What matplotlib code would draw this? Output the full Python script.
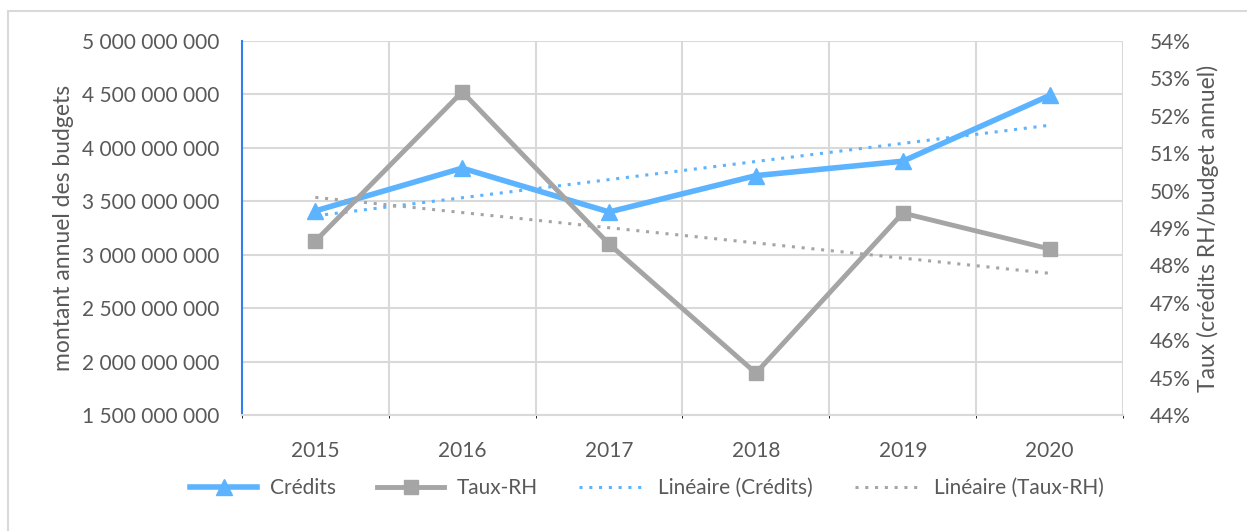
import matplotlib.pyplot as plt
import matplotlib.ticker as mticker
import numpy as np
from matplotlib.patches import Rectangle

plt.rcParams['font.family'] = ['Lato', 'DejaVu Sans']

years = ['2015', '2016', '2017', '2018', '2019', '2020']
credits = [3.41e9, 3.81e9, 3.40e9, 3.74e9, 3.875e9, 4.49e9]
taux_rh = [48.65, 52.64, 48.57, 45.12, 49.40, 48.44]

blue = '#5CB3FF'
grey = '#A5A5A5'
text_col = '#595959'
grid_col = '#D9D9D9'

fig = plt.figure(figsize=(12.47, 5.31), dpi=100)
ax = fig.add_axes([0.194, 0.2185, 0.7066, 0.7043])
ax2 = ax.twinx()

x = np.arange(len(years))

# linear trend lines (like Excel "Linéaire")
c_fit = np.polyval(np.polyfit(x, credits, 1), x)
t_fit = np.polyval(np.polyfit(x, taux_rh, 1), x)

l1, = ax.plot(x, credits, color=blue, lw=4, marker='^', markersize=11, zorder=5, label='Crédits')
l3, = ax.plot(x, c_fit, color=blue, lw=2.2, ls=(0, (1, 2.2)), zorder=4, label='Linéaire (Crédits)')
l2, = ax2.plot(x, taux_rh, color=grey, lw=3.5, marker='s', markersize=10, zorder=5, label='Taux-RH')
l4, = ax2.plot(x, t_fit, color=grey, lw=2.2, ls=(0, (1, 2.2)), zorder=4, label='Linéaire (Taux-RH)')

ax.set_xlim(-0.5, 5.5)
ax.set_ylim(1.5e9, 5e9)
ax.set_yticks(np.arange(1.5e9, 5.01e9, 0.5e9))
ax.yaxis.set_major_formatter(mticker.FuncFormatter(lambda v, p: f'{int(v):,}'.replace(',', ' ')))
ax2.set_ylim(44, 54)
ax2.set_yticks(np.arange(44, 55, 1))
ax2.yaxis.set_major_formatter(mticker.FuncFormatter(lambda v, p: f'{int(round(v))}%'))

ax.set_xticks(x)
ax.set_xticklabels(years)
ax.set_xticks(np.arange(-0.5, 6, 1), minor=True)
ax.grid(True, which='minor', axis='x', color=grid_col, lw=1.5)
ax.grid(True, which='major', axis='y', color=grid_col, lw=1.5)
ax.set_axisbelow(True)

for a in (ax, ax2):
    for s in a.spines.values():
        s.set_visible(False)
    a.tick_params(length=0, labelsize=15, colors=text_col)
ax.spines['left'].set_visible(True)
ax.spines['left'].set_color('#2F7FEF')
ax.spines['left'].set_linewidth(1.5)
ax.spines['bottom'].set_visible(True)
ax.spines['bottom'].set_color(grid_col)
ax.spines['bottom'].set_linewidth(1.5)
ax.tick_params(axis='x', pad=19)
ax.tick_params(axis='y', pad=16)
ax2.tick_params(axis='y', pad=19)

ax.set_ylabel('montant annuel des budgets', fontsize=16.5, color=text_col, labelpad=6)
ax2.set_ylabel('Taux (crédits RH/budget annuel)', fontsize=16.5, color=text_col, labelpad=5)

fig.legend(handles=[l1, l2, l3, l4], loc='center', bbox_to_anchor=(0.519, 0.081), ncol=4,
           frameon=False, fontsize=15, handlelength=3.2, handletextpad=0.6, columnspacing=2.0,
           labelcolor=text_col)

fig.patches.append(Rectangle((8 / 1247, -0.01), 1.0, 1 - 11 / 531 + 0.01, transform=fig.transFigure,
                             fill=False, edgecolor='#D9D9D9', lw=1.5))

fig.savefig('out.png', dpi=100)
